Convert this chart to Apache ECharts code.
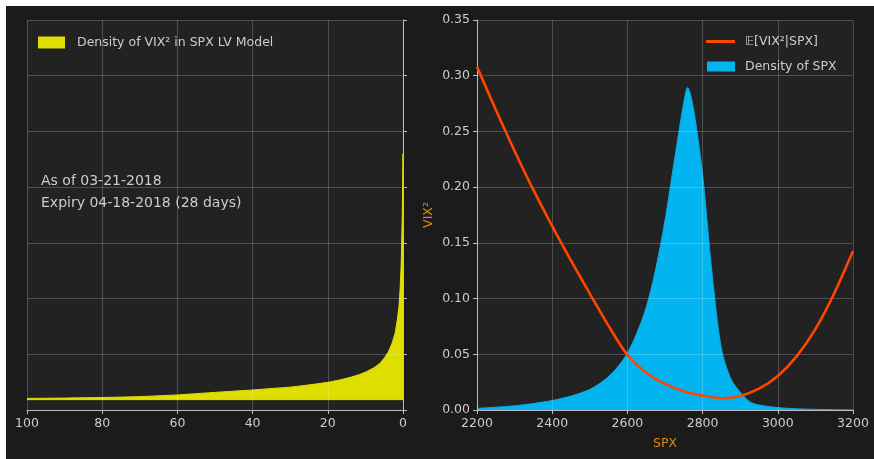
<!DOCTYPE html>
<html>
<head>
<meta charset="utf-8">
<script src="https://cdn.jsdelivr.net/npm/echarts@6/dist/echarts.min.js"></script>
<style>
  html, body { margin: 0; background: #ffffff; }
  #chart { position: absolute; left: 6px; top: 6px; width: 868px; height: 453px; background: #1b1b1b; }
</style>
</head>
<body>
<div id="chart"></div>
<script>
// left panel: density of VIX^2 (x, reversed) against VIX^2 level (y)
var vix2Levels  = [0.0093, 0.0104, 0.0107, 0.0112, 0.0120, 0.0135, 0.0158, 0.0180, 0.0205, 0.0225,
                   0.0248, 0.0270, 0.0293, 0.0318, 0.0344, 0.0380, 0.0420, 0.0470, 0.0520, 0.0600,
                   0.0690, 0.0800, 0.0930, 0.1100, 0.1290, 0.1500, 0.1700, 0.2000, 0.2300];
var vix2Density = [100, 100, 90, 80, 70, 60, 50, 40, 30, 25,
                   20, 16.8, 14, 11.6, 9.7, 7.7, 6.1, 4.9, 3.9, 2.9,
                   2.1, 1.55, 1.06, 0.75, 0.5, 0.35, 0.22, 0.08, 0];

// right panel: conditional expectation of VIX^2 given SPX
var spxLine = [2200, 2250, 2300, 2350, 2400, 2450, 2500, 2550, 2600, 2650, 2700,
               2750, 2800, 2850, 2900, 2950, 3000, 3050, 3100, 3150, 3200];
var condVix2 = [0.308, 0.2695, 0.2325, 0.1975, 0.165, 0.134, 0.1045, 0.0755, 0.0495, 0.0335, 0.0235,
                0.0168, 0.0128, 0.0106, 0.0126, 0.0191, 0.0306, 0.0481, 0.0726, 0.1046, 0.1426];

// right panel: density of SPX (scaled)
var spxDens = [2200, 2250, 2300, 2350, 2400, 2450, 2475, 2500, 2525, 2550, 2575, 2600, 2625, 2650,
               2675, 2700, 2725, 2750, 2760, 2775, 2800, 2825, 2850, 2875, 2900, 2925, 2950,
               3000, 3050, 3100, 3150, 3200];
var spxDensity = [0.0015, 0.0025, 0.0038, 0.0058, 0.0085, 0.0125, 0.0152, 0.0185, 0.0235, 0.030, 0.039, 0.051, 0.069, 0.092,
                  0.126, 0.170, 0.224, 0.276, 0.2895, 0.272, 0.211, 0.123, 0.055, 0.028, 0.016, 0.0075, 0.0045,
                  0.0022, 0.0011, 0.0006, 0.0003, 0.0002];

var textColor = '#cccccc';
var axisColor = '#bdbdbd';
var gridColor = 'rgba(255,255,255,0.2)';
var nameColor = '#e0870f';
var yellow = '#dede00';
var blue = '#02b5f0';
var orange = '#ff4500';

var chart = echarts.init(document.getElementById('chart'));

function pairs(xs, ys) {
    return xs.map(function (x, i) { return [x, ys[i]]; });
}

var option = {
    backgroundColor: '#1b1b1b',
    animation: false,
    textStyle: { fontFamily: 'DejaVu Sans' },
    grid: [
        { left: 21, top: 14, width: 376, height: 390, show: true, backgroundColor: '#222222', borderWidth: 0 },
        { left: 471, top: 14, width: 376, height: 390, show: true, backgroundColor: '#222222', borderWidth: 0 }
    ],
    xAxis: [
        {
            gridIndex: 0, type: 'value', min: 0, max: 100, interval: 20, inverse: true, z: 3,
            axisLine: { show: true, onZero: false, lineStyle: { color: axisColor } },
            axisTick: { show: true, length: 4, lineStyle: { color: axisColor } },
            axisLabel: { color: textColor, fontSize: 12.5, margin: 7 },
            splitLine: { show: true, lineStyle: { color: gridColor } }
        },
        {
            gridIndex: 1, type: 'value', min: 2200, max: 3200, interval: 200, z: 3,
            name: 'SPX', nameLocation: 'middle', nameGap: 27,
            nameTextStyle: { color: nameColor, fontSize: 12.5 },
            axisLine: { show: true, onZero: false, lineStyle: { color: axisColor } },
            axisTick: { show: true, length: 4, lineStyle: { color: axisColor } },
            axisLabel: {
                color: textColor, fontSize: 12.5, margin: 7,
                formatter: function (v) { return String(v); }
            },
            splitLine: { show: true, lineStyle: { color: gridColor } }
        }
    ],
    yAxis: [
        {
            gridIndex: 0, type: 'value', position: 'right', min: 0, max: 0.35, interval: 0.05, z: 3,
            axisLine: { show: true, onZero: false, lineStyle: { color: axisColor } },
            axisTick: { show: true, length: 4, lineStyle: { color: axisColor } },
            axisLabel: { show: false },
            splitLine: { show: true, lineStyle: { color: gridColor } }
        },
        {
            gridIndex: 1, type: 'value', min: 0, max: 0.35, interval: 0.05, z: 3,
            name: 'VIX²', nameLocation: 'middle', nameGap: 42,
            nameTextStyle: { color: nameColor, fontSize: 12.5 },
            axisLine: { show: true, onZero: false, lineStyle: { color: axisColor } },
            axisTick: { show: true, length: 4, lineStyle: { color: axisColor } },
            axisLabel: {
                color: textColor, fontSize: 12.5, margin: 7,
                formatter: function (v) { return v.toFixed(2); }
            },
            splitLine: { show: true, lineStyle: { color: gridColor } }
        }
    ],
    legend: [
        {
            data: ['Density of VIX² in SPX LV Model'], left: 32, top: 30, padding: 0,
            icon: 'rect', itemWidth: 27, itemHeight: 12,
            textStyle: { color: textColor, fontSize: 12.5, padding: [0, 0, 0, 7] }
        },
        {
            data: ['𝔼[VIX²|SPX]'], left: 700, top: 29, padding: 0,
            icon: 'rect', itemWidth: 29, itemHeight: 3,
            textStyle: { color: textColor, fontSize: 12.5, padding: [0, 0, 0, 5] }
        },
        {
            data: ['Density of SPX'], left: 701, top: 54, padding: 0,
            icon: 'rect', itemWidth: 28, itemHeight: 10,
            textStyle: { color: textColor, fontSize: 12.5, padding: [0, 0, 0, 5] }
        }
    ],
    graphic: [
        { type: 'text', left: 35, top: 168, style: { text: 'As of 03-21-2018', fill: textColor, font: '14px "DejaVu Sans"' } },
        { type: 'text', left: 35, top: 190, style: { text: 'Expiry 04-18-2018 (28 days)', fill: textColor, font: '14px "DejaVu Sans"' } }
    ],
    series: [
        {
            name: 'Density of VIX² in SPX LV Model',
            type: 'custom', xAxisIndex: 0, yAxisIndex: 0, z: 1, clip: true,
            itemStyle: { color: yellow },
            data: pairs(vix2Density, vix2Levels),
            renderItem: function (params, api) {
                if (params.dataIndex !== 0) return null;
                var pts = [];
                for (var i = 0; i < vix2Levels.length; i++) {
                    pts.push(api.coord([vix2Density[i], vix2Levels[i]]));
                }
                pts.push(api.coord([0, vix2Levels[0]]));
                return {
                    type: 'polygon',
                    shape: { points: pts },
                    style: { fill: yellow, stroke: yellow, lineWidth: 1 }
                };
            }
        },
        {
            name: 'Density of SPX',
            type: 'line', xAxisIndex: 1, yAxisIndex: 1, z: 1,
            symbol: 'none', smooth: 0.3,
            itemStyle: { color: blue },
            lineStyle: { color: '#10a8dc', width: 1 },
            areaStyle: { color: blue, opacity: 1 },
            data: pairs(spxDens, spxDensity)
        },
        {
            name: '𝔼[VIX²|SPX]',
            type: 'line', xAxisIndex: 1, yAxisIndex: 1, z: 4,
            symbol: 'none', smooth: 0.3,
            itemStyle: { color: orange },
            lineStyle: { color: orange, width: 2.6 },
            data: pairs(spxLine, condVix2)
        }
    ]
};

chart.setOption(option);
</script>
</body>
</html>
